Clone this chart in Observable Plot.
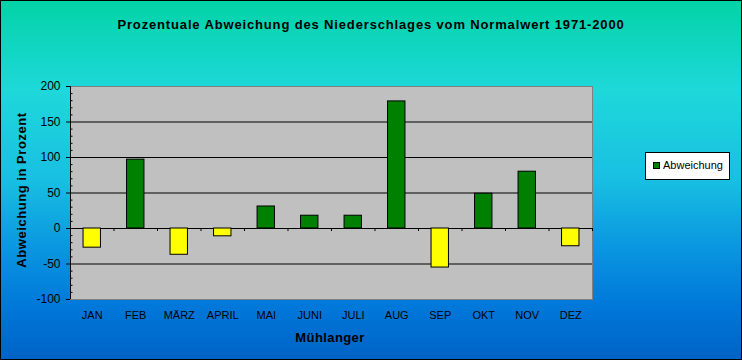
<!DOCTYPE html>
<html>
<head>
<meta charset="utf-8">
<script src="https://cdn.jsdelivr.net/npm/d3@7"></script>
<script src="https://cdn.jsdelivr.net/npm/@observablehq/plot@0.6"></script>
<style>
  html, body { margin: 0; padding: 0; background: #fff; }
  #chart {
    position: relative; width: 742px; height: 360px; overflow: hidden;
    background: linear-gradient(to bottom, #02d3a6 0%, #1ed8da 25%, #18bfe2 50%, #0a98e0 68%, #0078da 85%, #0062c6 100%);
    font-family: "Liberation Sans", Arial, sans-serif; color: #000;
  }
  #chart svg { position: absolute; left: 0; top: 0; }
  .border { position: absolute; left: 0; top: 0; width: 742px; height: 360px; box-sizing: border-box; border: 1px solid #000; pointer-events: none; }
  .title { position: absolute; left: 0; width: 742px; top: 18px; text-align: center; font-weight: bold; font-size: 13px; line-height: 13px; letter-spacing: 0.85px; white-space: nowrap; }
  .ytitle { position: absolute; left: 21px; top: 190px; transform: translate(-50%, -50%) rotate(-90deg); font-weight: bold; font-size: 13px; line-height: 13px; letter-spacing: 0.55px; white-space: nowrap; }
  .xtitle { position: absolute; left: 330px; top: 331px; transform: translateX(-50%); font-weight: bold; font-size: 13px; line-height: 13px; letter-spacing: 0.4px; white-space: nowrap; }
  .legend { position: absolute; left: 645px; top: 152px; width: 85px; height: 28px; box-sizing: border-box; border: 1px solid #000; background: #fff; font-size: 11px; }
  .legend .sw { position: absolute; left: 7px; top: 9px; width: 5px; height: 5px; border: 1px solid #000; background: #008000; box-sizing: content-box; }
  .legend .lt { position: absolute; left: 17px; top: 7px; line-height: 11px; white-space: nowrap; }
</style>
</head>
<body>
<div id="chart"></div>
<script>
const title = "Prozentuale Abweichung des Niederschlages vom Normalwert 1971-2000";
const yTitle = "Abweichung in Prozent";
const xTitle = "Mühlanger";
const seriesName = "Abweichung";
const months = ["JAN","FEB","MÄRZ","APRIL","MAI","JUNI","JULI","AUG","SEP","OKT","NOV","DEZ"];
const values = [-27, 97, -37, -11, 31, 18, 18, 179, -55, 49, 80, -25];
const yTicks = [-100, -50, 0, 50, 100, 150, 200];
const gridLines = [-50, 0, 50, 100, 150];
const minorTicks = d3.range(-100, 201, 10).filter(v => v % 50 !== 0);

const data = months.map((m, i) => ({month: m, value: values[i]}));

const W = 742, H = 360, ML = 70, MR = 150, MT = 86, MB = 61;
const step = (W - ML - MR) / months.length;

const chart = Plot.plot({
  width: W, height: H,
  marginTop: MT, marginRight: MR, marginBottom: MB, marginLeft: ML,
  style: {background: "transparent", fontFamily: "'Liberation Sans', Arial, sans-serif", color: "#000", overflow: "visible"},
  x: {domain: months, paddingInner: 0.6, paddingOuter: 0.3, round: false, label: null},
  y: {domain: [-100, 200], label: null},
  color: {type: "identity"},
  marks: [
    Plot.frame({fill: "#c0c0c0", stroke: "#808080"}),
    Plot.ruleY(gridLines, {stroke: "#000", strokeWidth: 1}),
    Plot.barY(data, {x: "month", y: "value", fill: d => d.value >= 0 ? "#008000" : "#ffff00", stroke: "#000", strokeWidth: 1}),
    Plot.ruleX(months, {x: d => d, y1: 0, y2: -4.3, dx: step / 2, stroke: "#000"}),
    Plot.ruleX([months[0]], {dx: -step / 2, stroke: "#000"}),
    Plot.tickY(minorTicks, {y: d => d, insetRight: (W - ML - MR) - 2.5, stroke: "#000"}),
    Plot.axisY({ticks: yTicks, tickSize: 4, tickPadding: 6, fontSize: 12, tickFormat: d => String(d), label: null}),
    Plot.axisX({tickSize: 0, tickPadding: 12, fontSize: 11, label: null})
  ]
});

const root = document.getElementById("chart");
root.appendChild(chart);

function addDiv(cls, text) {
  const d = document.createElement("div");
  d.className = cls;
  if (text != null) d.textContent = text;
  root.appendChild(d);
  return d;
}
addDiv("title", title);
addDiv("ytitle", yTitle);
addDiv("xtitle", xTitle);
const lg = addDiv("legend");
const sw = document.createElement("div"); sw.className = "sw"; lg.appendChild(sw);
const lt = document.createElement("div"); lt.className = "lt"; lt.textContent = seriesName; lg.appendChild(lt);
addDiv("border");
</script>
</body>
</html>
